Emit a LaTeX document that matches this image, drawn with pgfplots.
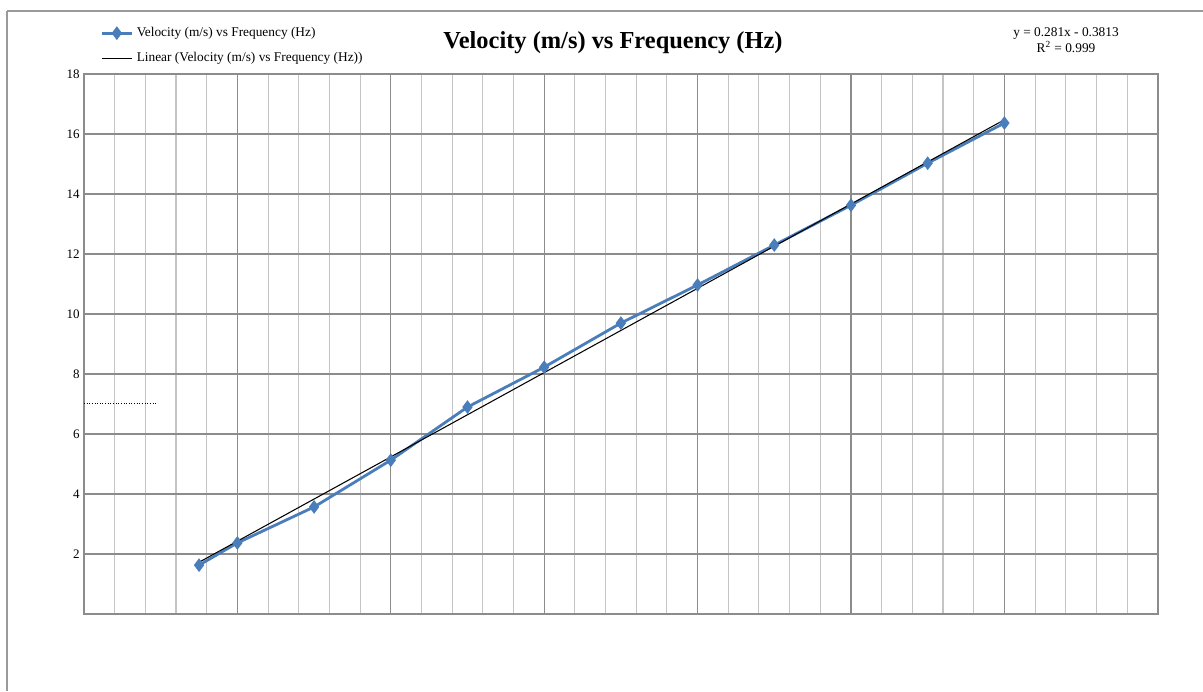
\documentclass[border=0pt]{standalone}
\usepackage{fontspec}
\setmainfont{Liberation Serif}
\usepackage{pgfplots}
\pgfplotsset{compat=1.18}

\definecolor{serblue}{HTML}{4A7EBB}
\definecolor{majgrid}{HTML}{8C8C8C}
\definecolor{mingrid}{HTML}{C4C4C4}
\definecolor{framegray}{HTML}{9A9A9A}

\begin{document}
\begin{tikzpicture}[x=0.02cm,y=0.02cm]
% page size in reference pixels
\path[use as bounding box] (0,0) rectangle (1203,691);
% outer chart frame (top and left edges only visible)
\draw[framegray, line width=1.4pt] (7,680) -- (1203,680);
\draw[framegray, line width=1.2pt] (7,680) -- (7,0);

\begin{axis}[
  at={(1.68cm,1.54cm)}, anchor=south west,
  scale only axis,
  width=21.48cm, height=10.8cm,
  xmin=0, xmax=70, ymin=0, ymax=18,
  xtick={0,10,...,70},
  minor xtick={2,4,6,8,12,14,16,18,22,24,26,28,32,34,36,38,42,44,46,48,52,54,56,58,62,64,66,68},
  xticklabels={},
  ytick={2,4,...,18},
  yticklabel style={font=\fontsize{7.4}{8}\selectfont, xshift=1pt},
  /pgf/number format/assume math mode=true,
  major tick length=0pt, minor tick length=0pt,
  grid=both,
  major grid style={majgrid, line width=0.7pt},
  minor grid style={mingrid, line width=0.6pt},
  axis line style={majgrid, line width=1.1pt},
  legend style={at={(0.015,1.094)}, anchor=north west, draw=none, fill=none,
    font=\fontsize{7.6}{9}\selectfont, row sep=3.6pt,
    inner xsep=0pt, inner ysep=0pt},
  legend cell align=left,
  legend image code/.code={
    \draw[#1] (0cm,0cm) -- (0.6cm,0cm);
    \draw[#1, mark repeat=1] plot coordinates {(0.3cm,0cm)};
  },
]
\addplot[serblue, line width=1.6pt, mark=diamond*, mark size=2.6pt,
  mark options={solid, fill=serblue}] coordinates {
  (7.5,1.63) (10,2.37) (15,3.57) (20,5.13) (25,6.9) (30,8.23)
  (35,9.7) (40,10.97) (45,12.3) (50,13.63) (55,15.03) (60,16.37)
};
\addlegendentry{Velocity (m/s) vs Frequency (Hz)}
% linear trendline y = 0.281x - 0.3813, drawn between its end values
\addplot[black, line width=0.6pt, mark=none] coordinates {
  (7.5,1.7262) (60,16.4787)
};
\addlegendentry{Linear (Velocity (m/s) vs Frequency (Hz))}
% stray dotted stub seen at the left of the plot
\addplot[black, densely dotted, line width=0.5pt, mark=none, forget plot]
  coordinates {(0,7.03) (4.8,7.03)};
\end{axis}

\node[font=\bfseries\fontsize{13.9}{16}\selectfont] at (613,648) {Velocity (m/s) vs Frequency (Hz)};
\node[font=\fontsize{7.6}{9}\selectfont, align=center, inner sep=0pt] at (1066,651)
  {y = 0.281x - 0.3813\\R\textsuperscript{2} = 0.999};
\end{tikzpicture}
\end{document}
